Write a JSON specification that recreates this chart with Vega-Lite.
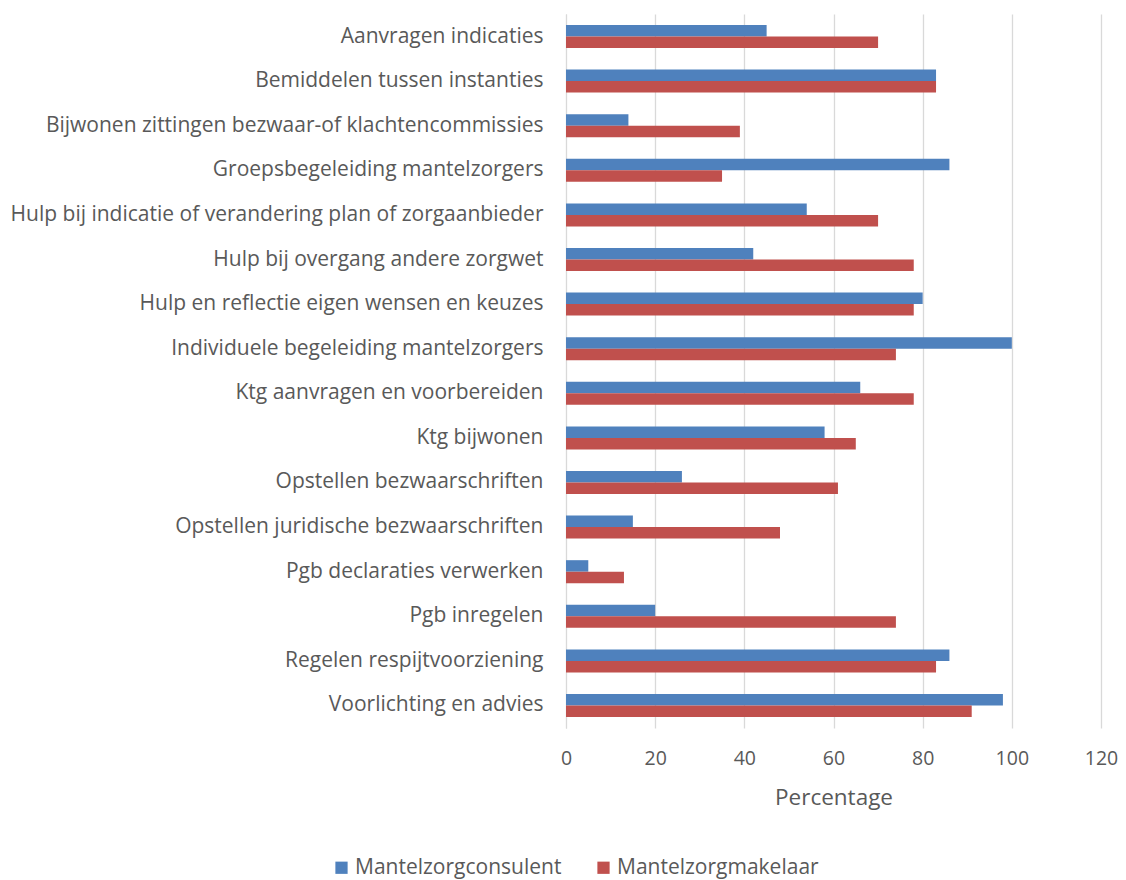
{
  "$schema": "https://vega.github.io/schema/vega-lite/v6.json",
  "autosize": {"type": "none"},
  "padding": {"left": 566, "top": 14, "right": 25, "bottom": 152},
  "width": 535,
  "height": 714,
  "background": "white",
  "config": {
    "view": {"stroke": null},
    "font": "Open Sans",
    "text": {"font": "Open Sans"}
  },
  "data": {
    "values": [
      {"cat": "Aanvragen indicaties", "series": "Mantelzorgconsulent", "value": 45},
      {"cat": "Aanvragen indicaties", "series": "Mantelzorgmakelaar", "value": 70},
      {"cat": "Bemiddelen tussen instanties", "series": "Mantelzorgconsulent", "value": 83},
      {"cat": "Bemiddelen tussen instanties", "series": "Mantelzorgmakelaar", "value": 83},
      {"cat": "Bijwonen zittingen bezwaar-of klachtencommissies", "series": "Mantelzorgconsulent", "value": 14},
      {"cat": "Bijwonen zittingen bezwaar-of klachtencommissies", "series": "Mantelzorgmakelaar", "value": 39},
      {"cat": "Groepsbegeleiding mantelzorgers", "series": "Mantelzorgconsulent", "value": 86},
      {"cat": "Groepsbegeleiding mantelzorgers", "series": "Mantelzorgmakelaar", "value": 35},
      {"cat": "Hulp bij indicatie of verandering plan of zorgaanbieder", "series": "Mantelzorgconsulent", "value": 54},
      {"cat": "Hulp bij indicatie of verandering plan of zorgaanbieder", "series": "Mantelzorgmakelaar", "value": 70},
      {"cat": "Hulp bij overgang andere zorgwet", "series": "Mantelzorgconsulent", "value": 42},
      {"cat": "Hulp bij overgang andere zorgwet", "series": "Mantelzorgmakelaar", "value": 78},
      {"cat": "Hulp en reflectie eigen wensen en keuzes", "series": "Mantelzorgconsulent", "value": 80},
      {"cat": "Hulp en reflectie eigen wensen en keuzes", "series": "Mantelzorgmakelaar", "value": 78},
      {"cat": "Individuele begeleiding mantelzorgers", "series": "Mantelzorgconsulent", "value": 100},
      {"cat": "Individuele begeleiding mantelzorgers", "series": "Mantelzorgmakelaar", "value": 74},
      {"cat": "Ktg aanvragen en voorbereiden", "series": "Mantelzorgconsulent", "value": 66},
      {"cat": "Ktg aanvragen en voorbereiden", "series": "Mantelzorgmakelaar", "value": 78},
      {"cat": "Ktg bijwonen", "series": "Mantelzorgconsulent", "value": 58},
      {"cat": "Ktg bijwonen", "series": "Mantelzorgmakelaar", "value": 65},
      {"cat": "Opstellen bezwaarschriften", "series": "Mantelzorgconsulent", "value": 26},
      {"cat": "Opstellen bezwaarschriften", "series": "Mantelzorgmakelaar", "value": 61},
      {"cat": "Opstellen juridische bezwaarschriften", "series": "Mantelzorgconsulent", "value": 15},
      {"cat": "Opstellen juridische bezwaarschriften", "series": "Mantelzorgmakelaar", "value": 48},
      {"cat": "Pgb declaraties verwerken", "series": "Mantelzorgconsulent", "value": 5},
      {"cat": "Pgb declaraties verwerken", "series": "Mantelzorgmakelaar", "value": 13},
      {"cat": "Pgb inregelen", "series": "Mantelzorgconsulent", "value": 20},
      {"cat": "Pgb inregelen", "series": "Mantelzorgmakelaar", "value": 74},
      {"cat": "Regelen respijtvoorziening", "series": "Mantelzorgconsulent", "value": 86},
      {"cat": "Regelen respijtvoorziening", "series": "Mantelzorgmakelaar", "value": 83},
      {"cat": "Voorlichting en advies", "series": "Mantelzorgconsulent", "value": 98},
      {"cat": "Voorlichting en advies", "series": "Mantelzorgmakelaar", "value": 91}
    ]
  },
  "mark": {"type": "bar"},
  "encoding": {
    "y": {
      "field": "cat",
      "type": "nominal",
      "sort": null,
      "scale": {"paddingInner": 0.484, "paddingOuter": 0.247},
      "axis": {
        "title": null,
        "ticks": false,
        "domain": true,
        "domainColor": "#D9D9D9",
        "domainWidth": 1,
        "labelFont": "Open Sans",
        "labelFontSize": 21,
        "labelColor": "#595959",
        "labelPadding": 23,
        "labelLimit": 600
      }
    },
    "yOffset": {"field": "series", "type": "nominal", "sort": ["Mantelzorgconsulent", "Mantelzorgmakelaar"]},
    "x": {
      "field": "value",
      "type": "quantitative",
      "scale": {"domain": [0, 120], "nice": false},
      "axis": {
        "title": "Percentage",
        "titleFont": "Open Sans",
        "titleFontSize": 22.5,
        "titleFontWeight": "normal",
        "titleColor": "#595959",
        "titlePadding": 19,
        "values": [0, 20, 40, 60, 80, 100, 120],
        "grid": true,
        "gridColor": "#D9D9D9",
        "gridWidth": 1.3,
        "domain": false,
        "ticks": false,
        "labelFlush": false,
        "labelFont": "Open Sans",
        "labelFontSize": 19.5,
        "labelColor": "#595959",
        "labelPadding": 21
      }
    },
    "color": {
      "field": "series",
      "type": "nominal",
      "sort": ["Mantelzorgconsulent", "Mantelzorgmakelaar"],
      "scale": {"domain": ["Mantelzorgconsulent", "Mantelzorgmakelaar"], "range": ["#4F81BD", "#C0504D"]},
      "legend": {
        "title": null,
        "orient": "none",
        "direction": "horizontal",
        "legendX": -235,
        "legendY": 843,
        "symbolType": "square",
        "symbolSize": 150,
        "symbolOpacity": 1,
        "symbolStrokeWidth": 0,
        "labelFont": "Open Sans",
        "labelFontSize": 21,
        "labelColor": "#595959",
        "labelOffset": 3,
        "columnPadding": 31,
        "labelLimit": 400
      }
    }
  }
}
